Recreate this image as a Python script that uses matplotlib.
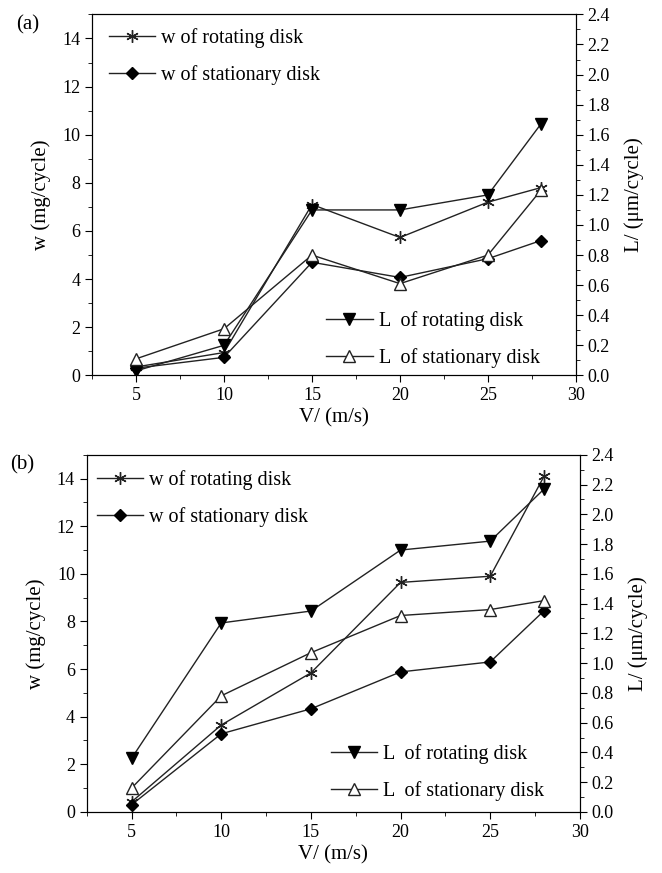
import numpy as np
import matplotlib
matplotlib.use('Agg')
from matplotlib import pyplot as plt
from matplotlib.ticker import MultipleLocator, FormatStrFormatter

plt.rcParams['font.family'] = ['Liberation Serif', 'DejaVu Serif']
plt.rcParams['font.size'] = 13

# data
speed = [5, 10, 15, 20, 25, 28]

# (a)
a_w_rot = [0.35, 0.95, 7.1, 5.73, 7.2, 7.8]
a_w_sta = [0.3, 0.75, 4.7, 4.07, 4.85, 5.6]
a_L_rot = [0.03, 0.2, 1.1, 1.1, 1.2, 1.67]
a_L_sta = [0.11, 0.31, 0.8, 0.61, 0.8, 1.23]

# (b)
b_w_rot = [0.42, 3.65, 5.84, 9.64, 9.9, 14.1]
b_w_sta = [0.3, 3.28, 4.33, 5.88, 6.3, 8.45]
b_L_rot = [0.36, 1.27, 1.35, 1.76, 1.82, 2.17]
b_L_sta = [0.16, 0.78, 1.07, 1.32, 1.36, 1.42]

# tag, series, axes rect, upper legend anchor, lower legend anchor
panels = [
    ('(a)', a_w_rot, a_w_sta, a_L_rot, a_L_sta, [0.139, 0.570, 0.731, 0.4135],
     (0.035, 0.962), (0.925, 0.02)),
    ('(b)', b_w_rot, b_w_sta, b_L_rot, b_L_sta, [0.131, 0.070, 0.745, 0.409],
     (0.02, 0.958), (0.927, 0.03)),
]

ast = (6, 2, 0)
lc = '#222222'

fig = plt.figure(figsize=(6.62, 8.73), dpi=100)

for tag, w_rot, w_sta, L_rot, L_sta, rect, up_anchor, lo_anchor in panels:
    ax = fig.add_axes(rect)
    ax2 = ax.twinx()

    l1, = ax.plot(speed, w_rot, color=lc, lw=1, marker=ast, ms=9, mew=1,
                  label='w of rotating disk')
    l2, = ax.plot(speed, w_sta, color=lc, lw=1, marker='D', ms=6, mfc='k', mec='k',
                  label='w of stationary disk')
    l3, = ax2.plot(speed, L_rot, color=lc, lw=1, marker='v', ms=8, mfc='k', mec='k',
                   label='L  of rotating disk')
    l4, = ax2.plot(speed, L_sta, color=lc, lw=1, marker='^', ms=8, mfc='white', mec=lc,
                   label='L  of stationary disk')

    ax.set_xlim(2.5, 30)
    ax.set_ylim(0, 15)
    ax2.set_ylim(0, 2.4)

    ax.set_xticks([5, 10, 15, 20, 25, 30])
    ax.xaxis.set_minor_locator(MultipleLocator(2.5))
    ax.set_yticks([0, 2, 4, 6, 8, 10, 12, 14])
    ax.yaxis.set_minor_locator(MultipleLocator(1))
    ax2.yaxis.set_major_locator(MultipleLocator(0.2))
    ax2.yaxis.set_minor_locator(MultipleLocator(0.1))
    ax2.yaxis.set_major_formatter(FormatStrFormatter('%.1f'))

    ax.tick_params(which='both', direction='out', top=False, right=False)
    ax.tick_params(which='major', length=5)
    ax.tick_params(which='minor', length=3)
    ax2.tick_params(which='both', direction='out')
    ax2.tick_params(which='major', length=5)
    ax2.tick_params(which='minor', length=3)

    ax.set_xlabel('V/ (m/s)', fontsize=15, labelpad=3)
    ax.set_ylabel('w (mg/cycle)', fontsize=15, labelpad=8)
    ax2.set_ylabel('L/ (\u03bcm/cycle)', fontsize=15, labelpad=10)

    ax.legend(handles=[l1, l2], loc='upper left', bbox_to_anchor=up_anchor,
              frameon=False, fontsize=14.5, handlelength=2.3, handletextpad=0.3,
              borderpad=0, borderaxespad=0, labelspacing=0.85)
    ax2.legend(handles=[l3, l4], loc='lower right', bbox_to_anchor=lo_anchor,
               frameon=False, fontsize=14.5, handlelength=2.3, handletextpad=0.3,
               borderpad=0, borderaxespad=0, labelspacing=0.85)

    fig.text(rect[0] - 0.115, rect[1] + rect[3] - 0.012, tag, fontsize=15, va='center')

plt.savefig('out.png', dpi=100)
